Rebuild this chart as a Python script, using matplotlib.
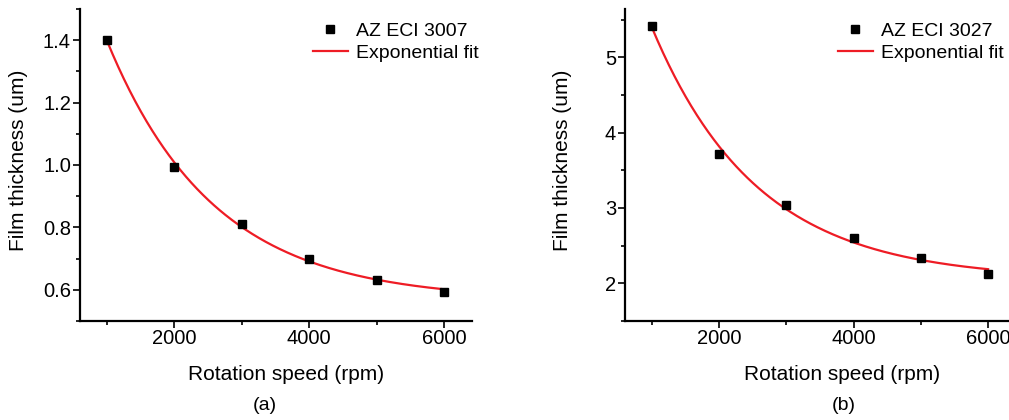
import matplotlib.pyplot as plt
import numpy as np

plt.rcParams['font.family'] = ['Liberation Sans', 'DejaVu Sans']

# spin speeds (rpm) and measured film thickness (um)
speed = [1000, 2000, 3000, 4000, 5000, 6000]
thick_3007 = [1.402, 0.992, 0.812, 0.700, 0.633, 0.593]
thick_3027 = [5.42, 3.72, 3.04, 2.60, 2.33, 2.12]

labels = ['AZ ECI 3007', 'AZ ECI 3027']
panel_tags = ['(a)', '(b)']
yticks_a = [0.6, 0.8, 1.0, 1.2, 1.4]
yticks_b = [2, 3, 4, 5]
xticks = [2000, 4000, 6000]


# y = y0 + A*exp(-x/t), grid over t, linear least squares for y0, A
def exp_fit(x, y):
    x = np.asarray(x, float)
    y = np.asarray(y, float)
    best = None
    for t in np.linspace(200, 10000, 4000):
        M = np.column_stack([np.ones_like(x), np.exp(-x / t)])
        coef, res, _, _ = np.linalg.lstsq(M, y, rcond=None)
        err = np.sum((M @ coef - y) ** 2)
        if best is None or err < best[0]:
            best = (err, coef[0], coef[1], t)
    _, y0, a, t = best
    return lambda xx: y0 + a * np.exp(-np.asarray(xx) / t)


W, H = 1009, 420
fig = plt.figure(figsize=(W / 100, H / 100), dpi=100)

red = '#ee1c25'

def px(x0, y0, x1, y1):
    return [x0 / W, 1 - y1 / H, (x1 - x0) / W, (y1 - y0) / H]

axes = [fig.add_axes(px(80, 9, 472, 321)), fig.add_axes(px(625, 9, 1016, 321))]
datasets = [thick_3007, thick_3027]
ylims = [(0.538, 1.464), (1.924, 5.64)]
yticks_all = [yticks_a, yticks_b]
yfmt = ['{:.1f}', '{:.0f}']
leg_x = [0.594, 0.544]

for i, ax in enumerate(axes):
    y = datasets[i]
    f = exp_fit(speed, y)
    xs = np.linspace(speed[0], speed[-1], 300)
    ax.plot(speed, y, 's', color='black', markersize=5.5, label=labels[i], zorder=3)
    ax.plot(xs, f(xs), '-', color=red, lw=1.6, label='Exponential fit', zorder=2)

    ax.set_xlim(599, 6415)
    ax.set_ylim(*ylims[i])
    ax.set_xticks(xticks)
    ax.set_xticks([1000, 3000, 5000], minor=True)
    ax.set_yticks(yticks_all[i])
    yt = yticks_all[i]
    step = yt[1] - yt[0]
    ax.set_yticks([v + step / 2 for v in [yt[0] - step] + yt], minor=True)
    ax.set_yticklabels([yfmt[i].format(v) for v in yt])

    for s in ['top', 'right']:
        ax.spines[s].set_visible(False)
    for s in ['left', 'bottom']:
        ax.spines[s].set_linewidth(1.6)
    ax.tick_params(which='major', direction='out', length=5, width=1.2, pad=1.5, labelsize=14.5)
    ax.tick_params(axis='x', which='major', pad=1.0)
    ax.tick_params(which='minor', direction='out', length=2.8, width=1.2)

    ax.legend(loc='upper left', bbox_to_anchor=(leg_x[i], 0.957), frameon=False,
              fontsize=14, borderpad=0, borderaxespad=0, handlelength=1.8,
              handletextpad=0.41, labelspacing=0.2, numpoints=1)

# axis titles and panel tags
for xc in [286, 842]:
    fig.text(xc / W, 1 - 375 / H, 'Rotation speed (rpm)', ha='center', va='center', fontsize=15)
for xc in [18.5, 563]:
    fig.text(xc / W, 1 - 160 / H, 'Film thickness (um)', ha='center', va='center',
             rotation=90, fontsize=15)
for xc, tag in zip([265, 844], panel_tags):
    fig.text(xc / W, 1 - 405 / H, tag, ha='center', va='center', fontsize=14)

fig.savefig('out.png', dpi=100)
